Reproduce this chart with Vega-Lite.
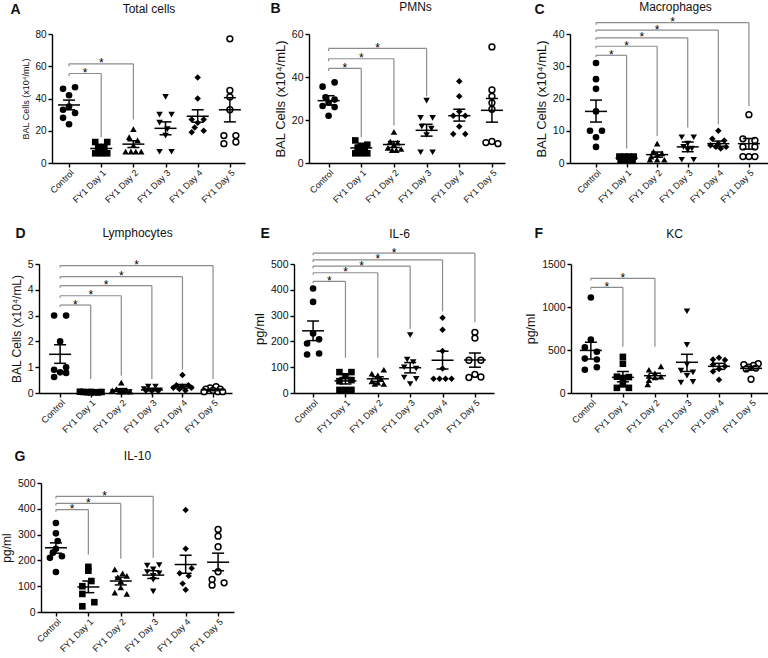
{
"$schema": "https://vega.github.io/schema/vega-lite/v6.json",
"padding": {"left": 0, "top": 0, "right": 0, "bottom": 0},
"spacing": 21,
"config": {
 "font": "Liberation Sans",
 "view": {"stroke": null},
 "axis": {"grid": false, "domainColor": "black", "domainWidth": 1.4, "tickColor": "black", "tickWidth": 1.4, "tickSize": 4, "labelColor": "#111", "titleColor": "#111", "labelFontSize": 10, "titleFontWeight": "normal", "labelPadding": 2, "titlePadding": 4, "labelFlush": false, "labelOverlap": false},
 "axisBottom": {"labelPadding": 1, "labelFontSize": 9}
},
"datasets": {
 "A_pts": [{"day":0,"v":46,"slot":-1},{"day":0,"v":47,"slot":1},{"day":0,"v":42,"slot":0},{"day":0,"v":35,"slot":0},{"day":0,"v":33,"slot":-1},{"day":0,"v":31,"slot":1},{"day":0,"v":28,"slot":-1},{"day":0,"v":24,"slot":0},
  {"day":1,"v":13,"slot":-1},{"day":1,"v":13,"slot":1},{"day":1,"v":10,"slot":-0.5},{"day":1,"v":10,"slot":0.5},{"day":1,"v":8,"slot":0},{"day":1,"v":6,"slot":-1},{"day":1,"v":6,"slot":0},{"day":1,"v":6,"slot":1},
  {"day":2,"v":21,"slot":0},{"day":2,"v":16,"slot":-0.7},{"day":2,"v":14,"slot":0.7},{"day":2,"v":11,"slot":0},{"day":2,"v":7,"slot":-1.3},{"day":2,"v":7,"slot":-0.4},{"day":2,"v":7,"slot":0.4},{"day":2,"v":7,"slot":1.3},
  {"day":3,"v":41,"slot":0},{"day":3,"v":30,"slot":-1},{"day":3,"v":30,"slot":1},{"day":3,"v":25,"slot":-1},{"day":3,"v":21,"slot":0.3},{"day":3,"v":17,"slot":0},{"day":3,"v":7,"slot":-1},{"day":3,"v":7,"slot":1},
  {"day":4,"v":53,"slot":0},{"day":4,"v":40,"slot":0},{"day":4,"v":27,"slot":-1},{"day":4,"v":27,"slot":1},{"day":4,"v":25,"slot":0},{"day":4,"v":22,"slot":-0.5},{"day":4,"v":19,"slot":-1},{"day":4,"v":20,"slot":1},
  {"day":5,"v":77,"slot":0},{"day":5,"v":45,"slot":0},{"day":5,"v":41,"slot":0},{"day":5,"v":33,"slot":0},{"day":5,"v":17,"slot":-1},{"day":5,"v":17,"slot":1},{"day":5,"v":12,"slot":-1},{"day":5,"v":13,"slot":1}],
 "A_sum": [{"day":0,"mean":36,"lo":33,"hi":39},{"day":1,"mean":9,"lo":7.7,"hi":10.5},{"day":2,"mean":11.7,"lo":9.6,"hi":13.8},{"day":3,"mean":21.5,"lo":17.5,"hi":25.5},{"day":4,"mean":29,"lo":25.3,"hi":33},{"day":5,"mean":33,"lo":25.5,"hi":40.5}],
 "A_br": [{"from":0,"to":1,"h":55.5,"end":16,"cend":54,"sig":"*"},{"from":0,"to":2,"h":61.5,"end":27,"cend":60,"sig":"*"}],
 "B_pts": [{"day":0,"v":37.5,"slot":1},{"day":0,"v":35.5,"slot":-1},{"day":0,"v":30.5,"slot":-0.5},{"day":0,"v":29.5,"slot":1},{"day":0,"v":28,"slot":0},{"day":0,"v":26.5,"slot":-1},{"day":0,"v":26,"slot":1},{"day":0,"v":22,"slot":0},
  {"day":1,"v":10.5,"slot":-1},{"day":1,"v":8.5,"slot":1},{"day":1,"v":8,"slot":0},{"day":1,"v":7,"slot":-0.6},{"day":1,"v":6,"slot":0.6},{"day":1,"v":4.5,"slot":-1},{"day":1,"v":4.5,"slot":0},{"day":1,"v":4.5,"slot":1},
  {"day":2,"v":14.5,"slot":0},{"day":2,"v":10,"slot":-0.6},{"day":2,"v":9.5,"slot":0.6},{"day":2,"v":8.5,"slot":0},{"day":2,"v":7,"slot":-1},{"day":2,"v":6,"slot":-0.3},{"day":2,"v":6,"slot":0.4},{"day":2,"v":6.5,"slot":1.2},
  {"day":3,"v":29,"slot":0},{"day":3,"v":21,"slot":-1},{"day":3,"v":21,"slot":1},{"day":3,"v":17,"slot":-0.8},{"day":3,"v":16,"slot":0.8},{"day":3,"v":13,"slot":0},{"day":3,"v":5,"slot":-1},{"day":3,"v":5,"slot":1},
  {"day":4,"v":38,"slot":0},{"day":4,"v":31,"slot":0},{"day":4,"v":24,"slot":0},{"day":4,"v":22,"slot":-1},{"day":4,"v":22,"slot":1},{"day":4,"v":17,"slot":0},{"day":4,"v":13.5,"slot":-1},{"day":4,"v":13.5,"slot":1},
  {"day":5,"v":54,"slot":0},{"day":5,"v":34,"slot":0},{"day":5,"v":31,"slot":0},{"day":5,"v":28,"slot":0},{"day":5,"v":25,"slot":0},{"day":5,"v":10,"slot":0},{"day":5,"v":9.5,"slot":-1},{"day":5,"v":9,"slot":1}],
 "B_sum": [{"day":0,"mean":29,"lo":27,"hi":31.3},{"day":1,"mean":7,"lo":5.6,"hi":8.4},{"day":2,"mean":8.6,"lo":7.2,"hi":10},{"day":3,"mean":15.2,"lo":12.5,"hi":18},{"day":4,"mean":22,"lo":19.5,"hi":25},{"day":5,"mean":24.5,"lo":19,"hi":30}],
 "B_br": [{"from":0,"to":1,"h":44,"end":12,"cend":42.8,"sig":"*"},{"from":0,"to":2,"h":48.5,"end":17.5,"cend":47.3,"sig":"*"},{"from":0,"to":3,"h":53.3,"end":31,"cend":52.1,"sig":"*"}],
 "C_pts": [{"day":0,"v":31,"slot":0},{"day":0,"v":26,"slot":0},{"day":0,"v":23,"slot":0},{"day":0,"v":16,"slot":0},{"day":0,"v":10,"slot":-1},{"day":0,"v":10,"slot":1},{"day":0,"v":8,"slot":0},{"day":0,"v":5,"slot":0},
  {"day":1,"v":2,"slot":-1.2},{"day":1,"v":2,"slot":-0.4},{"day":1,"v":2,"slot":0.4},{"day":1,"v":2,"slot":1.2},{"day":1,"v":1.5,"slot":0},{"day":1,"v":1,"slot":-1},{"day":1,"v":1,"slot":0},{"day":1,"v":1,"slot":1},
  {"day":2,"v":6,"slot":0},{"day":2,"v":3.5,"slot":-0.6},{"day":2,"v":3,"slot":0.8},{"day":2,"v":2.5,"slot":0},{"day":2,"v":2,"slot":-1},{"day":2,"v":1,"slot":-1.2},{"day":2,"v":1,"slot":0},{"day":2,"v":1,"slot":1.2},
  {"day":3,"v":8,"slot":-1},{"day":3,"v":8,"slot":1},{"day":3,"v":6,"slot":0},{"day":3,"v":5,"slot":-0.7},{"day":3,"v":4.5,"slot":0.7},{"day":3,"v":4,"slot":0},{"day":3,"v":1,"slot":-1},{"day":3,"v":1,"slot":1},
  {"day":4,"v":10,"slot":0},{"day":4,"v":7.5,"slot":-1},{"day":4,"v":7,"slot":1},{"day":4,"v":6,"slot":0},{"day":4,"v":5.5,"slot":-1.3},{"day":4,"v":5,"slot":1.3},{"day":4,"v":5,"slot":-0.4},{"day":4,"v":4.5,"slot":0.4},
  {"day":5,"v":15,"slot":0},{"day":5,"v":7.5,"slot":-1},{"day":5,"v":7,"slot":1},{"day":5,"v":5,"slot":-1},{"day":5,"v":5,"slot":1},{"day":5,"v":2,"slot":-1},{"day":5,"v":2,"slot":0},{"day":5,"v":2,"slot":1}],
 "C_sum": [{"day":0,"mean":16,"lo":12.7,"hi":19.5},{"day":1,"mean":1.5,"lo":1.2,"hi":1.8},{"day":2,"mean":2.6,"lo":1.8,"hi":3.4},{"day":3,"mean":5,"lo":3.5,"hi":6.5},{"day":4,"mean":6,"lo":5.2,"hi":6.8},{"day":5,"mean":6,"lo":4.3,"hi":7.6}],
 "C_br": [{"from":0,"to":1,"h":33.4,"end":4.5,"cend":32.8,"sig":"*"},{"from":0,"to":2,"h":36.2,"end":8.4,"cend":35.6,"sig":"*"},{"from":0,"to":3,"h":38.8,"end":11,"cend":38.2,"sig":"*"},{"from":0,"to":4,"h":41.2,"end":12,"cend":40.6,"sig":"*"},{"from":0,"to":5,"h":43.5,"end":17.7,"cend":42.9,"sig":"*"}],
 "D_pts": [{"day":0,"v":3,"slot":-1},{"day":0,"v":3,"slot":1},{"day":0,"v":2,"slot":0},{"day":0,"v":1,"slot":1},{"day":0,"v":0.9,"slot":-1},{"day":0,"v":0.8,"slot":0},{"day":0,"v":0.78,"slot":1},{"day":0,"v":0.62,"slot":-1},
  {"day":1,"v":0.05,"slot":-1.8},{"day":1,"v":0.04,"slot":-1.2},{"day":1,"v":0.03,"slot":-0.6},{"day":1,"v":0.04,"slot":0},{"day":1,"v":0.03,"slot":0.6},{"day":1,"v":0.02,"slot":1.2},{"day":1,"v":0.04,"slot":1.8},{"day":1,"v":0.03,"slot":0},
  {"day":2,"v":0.4,"slot":0},{"day":2,"v":0.15,"slot":-0.8},{"day":2,"v":0.1,"slot":0.8},{"day":2,"v":0.1,"slot":-1.5},{"day":2,"v":0.05,"slot":1.5},{"day":2,"v":0.05,"slot":-0.3},{"day":2,"v":0.05,"slot":0.3},{"day":2,"v":0.06,"slot":1},
  {"day":3,"v":0.25,"slot":-0.6},{"day":3,"v":0.25,"slot":0.6},{"day":3,"v":0.15,"slot":-1.3},{"day":3,"v":0.1,"slot":1.3},{"day":3,"v":0.1,"slot":0},{"day":3,"v":0.05,"slot":-1},{"day":3,"v":0.05,"slot":1},{"day":3,"v":0.03,"slot":0},
  {"day":4,"v":0.7,"slot":0},{"day":4,"v":0.3,"slot":-1},{"day":4,"v":0.3,"slot":1},{"day":4,"v":0.25,"slot":0},{"day":4,"v":0.2,"slot":-1.5},{"day":4,"v":0.2,"slot":1.5},{"day":4,"v":0.15,"slot":-0.5},{"day":4,"v":0.1,"slot":0.5},
  {"day":5,"v":0.25,"slot":0.5},{"day":5,"v":0.2,"slot":-0.5},{"day":5,"v":0.15,"slot":1.2},{"day":5,"v":0.15,"slot":-1.2},{"day":5,"v":0.1,"slot":0},{"day":5,"v":0.05,"slot":-1.5},{"day":5,"v":0.05,"slot":0.8},{"day":5,"v":0.05,"slot":1.6}],
 "D_sum": [{"day":0,"mean":1.5,"lo":1.15,"hi":1.87},{"day":1,"mean":0.035,"lo":0.025,"hi":0.045},{"day":2,"mean":0.12,"lo":0.07,"hi":0.17},{"day":3,"mean":0.12,"lo":0.08,"hi":0.17},{"day":4,"mean":0.26,"lo":0.19,"hi":0.33},{"day":5,"mean":0.12,"lo":0.09,"hi":0.15}],
 "D_br": [{"from":0,"to":1,"h":3.41,"end":0.54,"cend":3.33,"sig":"*"},{"from":0,"to":2,"h":3.77,"end":0.67,"cend":3.69,"sig":"*"},{"from":0,"to":3,"h":4.16,"end":0.54,"cend":4.08,"sig":"*"},{"from":0,"to":4,"h":4.51,"end":0.9,"cend":4.43,"sig":"*"},{"from":0,"to":5,"h":4.94,"end":0.54,"cend":4.86,"sig":"*"}],
 "E_pts": [{"day":0,"v":405,"slot":0},{"day":0,"v":353,"slot":0},{"day":0,"v":231,"slot":0},{"day":0,"v":208,"slot":1},{"day":0,"v":192,"slot":-1},{"day":0,"v":153,"slot":1},{"day":0,"v":149,"slot":-1},
  {"day":1,"v":81,"slot":-1},{"day":1,"v":81,"slot":1},{"day":1,"v":65,"slot":0},{"day":1,"v":46,"slot":-1},{"day":1,"v":50,"slot":1},{"day":1,"v":12,"slot":-1},{"day":1,"v":12,"slot":0},{"day":1,"v":12,"slot":1},
  {"day":2,"v":90,"slot":1},{"day":2,"v":75,"slot":-1},{"day":2,"v":68,"slot":0},{"day":2,"v":55,"slot":0.5},{"day":2,"v":45,"slot":-1},{"day":2,"v":40,"slot":0},{"day":2,"v":35,"slot":-0.5},{"day":2,"v":35,"slot":1},
  {"day":3,"v":225,"slot":0},{"day":3,"v":130,"slot":-0.5},{"day":3,"v":120,"slot":0.5},{"day":3,"v":100,"slot":-1},{"day":3,"v":95,"slot":1},{"day":3,"v":60,"slot":-1},{"day":3,"v":55,"slot":1},{"day":3,"v":35,"slot":0},
  {"day":4,"v":292,"slot":0},{"day":4,"v":245,"slot":0},{"day":4,"v":163,"slot":0},{"day":4,"v":95,"slot":0},{"day":4,"v":55,"slot":-1.5},{"day":4,"v":55,"slot":-0.5},{"day":4,"v":55,"slot":0.5},{"day":4,"v":55,"slot":1.5},
  {"day":5,"v":235,"slot":0},{"day":5,"v":213,"slot":0},{"day":5,"v":127,"slot":-1},{"day":5,"v":127,"slot":1},{"day":5,"v":60,"slot":-1},{"day":5,"v":72,"slot":0},{"day":5,"v":62,"slot":1}],
 "E_sum": [{"day":0,"mean":241,"lo":203,"hi":279},{"day":1,"mean":47,"lo":35,"hi":60},{"day":2,"mean":55,"lo":45,"hi":63},{"day":3,"mean":98,"lo":78,"hi":118},{"day":4,"mean":127,"lo":93,"hi":162},{"day":5,"mean":128,"lo":100,"hi":155}],
 "E_br": [{"from":0,"to":1,"h":433,"end":137,"cend":425,"sig":"*"},{"from":0,"to":2,"h":466,"end":137,"cend":458,"sig":"*"},{"from":0,"to":3,"h":492,"end":248,"cend":484,"sig":"*"},{"from":0,"to":4,"h":516,"end":316,"cend":508,"sig":"*"},{"from":0,"to":5,"h":542,"end":274,"cend":534,"sig":"*"}],
 "F_pts": [{"day":0,"v":1110,"slot":0},{"day":0,"v":620,"slot":0},{"day":0,"v":530,"slot":-1},{"day":0,"v":480,"slot":1},{"day":0,"v":400,"slot":-1},{"day":0,"v":390,"slot":1},{"day":0,"v":300,"slot":1},{"day":0,"v":270,"slot":-1},
  {"day":1,"v":420,"slot":0},{"day":1,"v":340,"slot":0},{"day":1,"v":190,"slot":-1},{"day":1,"v":185,"slot":1},{"day":1,"v":175,"slot":0},{"day":1,"v":100,"slot":0},{"day":1,"v":60,"slot":-1},{"day":1,"v":60,"slot":1},
  {"day":2,"v":310,"slot":1},{"day":2,"v":270,"slot":-1},{"day":2,"v":230,"slot":0},{"day":2,"v":200,"slot":-1},{"day":2,"v":190,"slot":1},{"day":2,"v":180,"slot":0},{"day":2,"v":150,"slot":-1},{"day":2,"v":100,"slot":-1.2},
  {"day":3,"v":950,"slot":0},{"day":3,"v":560,"slot":0},{"day":3,"v":330,"slot":0},{"day":3,"v":260,"slot":-1},{"day":3,"v":240,"slot":1},{"day":3,"v":200,"slot":0},{"day":3,"v":120,"slot":-1},{"day":3,"v":130,"slot":1},
  {"day":4,"v":410,"slot":0},{"day":4,"v":390,"slot":-1},{"day":4,"v":385,"slot":1},{"day":4,"v":330,"slot":-1},{"day":4,"v":310,"slot":1},{"day":4,"v":280,"slot":0},{"day":4,"v":250,"slot":-1},{"day":4,"v":155,"slot":0},
  {"day":5,"v":340,"slot":1.2},{"day":5,"v":330,"slot":-1.2},{"day":5,"v":320,"slot":0.4},{"day":5,"v":300,"slot":-0.4},{"day":5,"v":290,"slot":0.8},{"day":5,"v":280,"slot":-0.8},{"day":5,"v":160,"slot":0}],
 "F_sum": [{"day":0,"mean":495,"lo":395,"hi":590},{"day":1,"mean":182,"lo":130,"hi":250},{"day":2,"mean":201,"lo":170,"hi":230},{"day":3,"mean":357,"lo":250,"hi":450},{"day":4,"mean":310,"lo":275,"hi":345},{"day":5,"mean":287,"lo":265,"hi":310}],
 "F_br": [{"from":0,"to":1,"h":1229,"end":539,"cend":1204,"sig":"*"},{"from":0,"to":2,"h":1333,"end":539,"cend":1308,"sig":"*"}],
 "G_pts": [{"day":0,"v":345,"slot":0},{"day":0,"v":305,"slot":0},{"day":0,"v":275,"slot":0.3},{"day":0,"v":245,"slot":0},{"day":0,"v":230,"slot":-0.5},{"day":0,"v":216,"slot":1},{"day":0,"v":210,"slot":-1},{"day":0,"v":155,"slot":0},
  {"day":1,"v":175,"slot":0},{"day":1,"v":160,"slot":0},{"day":1,"v":120,"slot":0.5},{"day":1,"v":100,"slot":-1},{"day":1,"v":70,"slot":-1},{"day":1,"v":38,"slot":1},{"day":1,"v":22,"slot":-1},
  {"day":2,"v":165,"slot":-1},{"day":2,"v":150,"slot":0.3},{"day":2,"v":140,"slot":1},{"day":2,"v":135,"slot":-0.5},{"day":2,"v":120,"slot":0},{"day":2,"v":95,"slot":0},{"day":2,"v":75,"slot":-1},{"day":2,"v":70,"slot":1},
  {"day":3,"v":180,"slot":-1},{"day":3,"v":182,"slot":1},{"day":3,"v":165,"slot":0},{"day":3,"v":155,"slot":-1},{"day":3,"v":150,"slot":1},{"day":3,"v":140,"slot":0},{"day":3,"v":125,"slot":0},{"day":3,"v":80,"slot":0},
  {"day":4,"v":395,"slot":0},{"day":4,"v":245,"slot":0},{"day":4,"v":170,"slot":1},{"day":4,"v":150,"slot":-1},{"day":4,"v":140,"slot":0.5},{"day":4,"v":110,"slot":-0.5},{"day":4,"v":86,"slot":0},
  {"day":5,"v":320,"slot":0},{"day":5,"v":294,"slot":0},{"day":5,"v":253,"slot":0},{"day":5,"v":156,"slot":0},{"day":5,"v":126,"slot":-1},{"day":5,"v":104,"slot":-1},{"day":5,"v":113,"slot":1}],
 "G_sum": [{"day":0,"mean":249,"lo":228,"hi":268},{"day":1,"mean":97,"lo":75,"hi":120},{"day":2,"mean":120,"lo":105,"hi":135},{"day":3,"mean":143,"lo":130,"hi":160},{"day":4,"mean":184,"lo":150,"hi":220},{"day":5,"mean":193,"lo":160,"hi":228}],
 "G_br": [{"from":0,"to":1,"h":397,"end":223,"cend":389,"sig":"*"},{"from":0,"to":2,"h":421,"end":206,"cend":413,"sig":"*"},{"from":0,"to":3,"h":448,"end":210,"cend":440,"sig":"*"}]
},
"vconcat": [
 {"bounds": "flush", "spacing": 0, "hconcat": [
  {"width": 50, "height": 1, "data": {"values": []}, "mark": "point"},
  {"width": 193, "height": 129, "resolve": {"scale": {"xOffset": "independent"}, "axis": {"x": "independent", "y": "independent"}},
   "layer": [
    {"data": {"name": "A_pts"}, "transform": [{"filter": "datum.day < 5"}], "mark": {"type": "point", "filled": true, "color": "black", "opacity": 1, "strokeWidth": 0},
     "encoding": {"x": {"field": "day", "type": "ordinal", "scale": {"type": "point", "domain": [0,1,2,3,4,5], "padding": 0.5, "align": 0.53}, "axis": {"labelExpr": "datum.value == 0 ? 'Control' : 'FY1 Day ' + datum.value", "labelAngle": -45, "title": null}},
      "xOffset": {"field": "slot", "type": "quantitative", "scale": {"domain": [-1, 1], "range": [-6, 6]}},
      "y": {"field": "v", "type": "quantitative", "scale": {"domain": [0, 80], "nice": false, "zero": false}, "axis": {"values": [0,20,40,60,80], "title": "BAL Cells (x10⁴/mL)", "titleFontSize": 9}},
      "shape": {"field": "day", "type": "nominal", "scale": {"domain": [0,1,2,3,4], "range": ["circle","square","triangle-up","triangle-down","diamond"]}, "legend": null},
      "size": {"field": "day", "type": "ordinal", "scale": {"domain": [0,1,2,3,4], "range": [44,42,44,44,30]}, "legend": null}}},
    {"data": {"name": "A_pts"}, "transform": [{"filter": "datum.day == 5"}], "mark": {"type": "point", "shape": "circle", "filled": true, "fill": "white", "stroke": "black", "strokeWidth": 1.5, "size": 34, "opacity": 1},
     "encoding": {"x": {"field": "day", "type": "ordinal", "axis": null}, "xOffset": {"field": "slot", "type": "quantitative", "scale": {"domain": [-1, 1], "range": [-6, 6]}}, "y": {"field": "v", "type": "quantitative", "axis": null}}},
    {"data": {"name": "A_sum"}, "mark": {"type": "rule", "color": "black", "strokeWidth": 1.5},
     "encoding": {"x": {"field": "day", "type": "ordinal", "axis": null}, "y": {"field": "lo", "type": "quantitative", "axis": null}, "y2": {"field": "hi"}}},
    {"data": {"name": "A_sum"}, "mark": {"type": "tick", "orient": "horizontal", "size": 22, "thickness": 1.5, "color": "black", "opacity": 1},
     "encoding": {"x": {"field": "day", "type": "ordinal", "axis": null}, "y": {"field": "mean", "type": "quantitative", "axis": null}}},
    {"data": {"name": "A_sum"}, "mark": {"type": "tick", "orient": "horizontal", "size": 12, "thickness": 1.5, "color": "black", "opacity": 1},
     "encoding": {"x": {"field": "day", "type": "ordinal", "axis": null}, "y": {"field": "lo", "type": "quantitative", "axis": null}}},
    {"data": {"name": "A_sum"}, "mark": {"type": "tick", "orient": "horizontal", "size": 12, "thickness": 1.5, "color": "black", "opacity": 1},
     "encoding": {"x": {"field": "day", "type": "ordinal", "axis": null}, "y": {"field": "hi", "type": "quantitative", "axis": null}}},
    {"data": {"name": "A_br"}, "mark": {"type": "rule", "color": "#8c8c8c", "strokeWidth": 1.2},
     "encoding": {"x": {"field": "from", "type": "ordinal", "axis": {"orient": "top", "domain": false, "ticks": false, "labels": false, "title": "Total cells", "titleFontSize": 12, "titleX": 96.5, "titleY": -22, "titleAlign": "center", "titleBaseline": "alphabetic", "titleAngle": 0}},
      "x2": {"field": "to"},
      "y": {"field": "h", "type": "quantitative", "axis": {"orient": "left", "domain": false, "ticks": false, "labels": false, "title": "A", "titleFontSize": 14, "titleFontWeight": "bold", "titleX": -42, "titleY": -21, "titleAlign": "left", "titleBaseline": "alphabetic", "titleAngle": 0}}}},
    {"data": {"name": "A_br"}, "mark": {"type": "rule", "color": "#8c8c8c", "strokeWidth": 1.2},
     "encoding": {"x": {"field": "to", "type": "ordinal", "axis": null}, "y": {"field": "h", "type": "quantitative", "axis": null}, "y2": {"field": "end"}}},
    {"data": {"name": "A_br"}, "mark": {"type": "rule", "color": "#8c8c8c", "strokeWidth": 1.2},
     "encoding": {"x": {"field": "from", "type": "ordinal", "axis": null}, "y": {"field": "h", "type": "quantitative", "axis": null}, "y2": {"field": "cend"}}},
    {"data": {"name": "A_br"}, "mark": {"type": "text", "fontSize": 12, "dy": 3.5, "baseline": "alphabetic", "align": "center", "color": "black"},
     "encoding": {"x": {"field": "from", "type": "ordinal", "axis": null}, "xOffset": {"field": "to", "type": "quantitative", "scale": {"domain": [0, 5], "range": [0, 80.4]}}, "y": {"field": "h", "type": "quantitative", "axis": null}, "text": {"field": "sig"}}}
   ]},
  {"width": 64, "height": 1, "data": {"values": []}, "mark": "point"},
  {"width": 196, "height": 129, "resolve": {"scale": {"xOffset": "independent"}, "axis": {"x": "independent", "y": "independent"}},
   "layer": [
    {"data": {"name": "B_pts"}, "transform": [{"filter": "datum.day < 5"}], "mark": {"type": "point", "filled": true, "color": "black", "opacity": 1, "strokeWidth": 0},
     "encoding": {"x": {"field": "day", "type": "ordinal", "scale": {"type": "point", "domain": [0,1,2,3,4,5], "padding": 0.5, "align": 0.6}, "axis": {"labelExpr": "datum.value == 0 ? 'Control' : 'FY1 Day ' + datum.value", "labelAngle": -45, "title": null}},
      "xOffset": {"field": "slot", "type": "quantitative", "scale": {"domain": [-1, 1], "range": [-6, 6]}},
      "y": {"field": "v", "type": "quantitative", "scale": {"domain": [0, 60], "nice": false, "zero": false}, "axis": {"values": [0,20,40,60], "title": "BAL Cells (x10⁴/mL)", "titleFontSize": 13, "labelFontSize": 10.5}},
      "shape": {"field": "day", "type": "nominal", "scale": {"domain": [0,1,2,3,4], "range": ["circle","square","triangle-up","triangle-down","diamond"]}, "legend": null},
      "size": {"field": "day", "type": "ordinal", "scale": {"domain": [0,1,2,3,4], "range": [44,42,44,44,30]}, "legend": null}}},
    {"data": {"name": "B_pts"}, "transform": [{"filter": "datum.day == 5"}], "mark": {"type": "point", "shape": "circle", "filled": true, "fill": "white", "stroke": "black", "strokeWidth": 1.5, "size": 34, "opacity": 1},
     "encoding": {"x": {"field": "day", "type": "ordinal", "axis": null}, "xOffset": {"field": "slot", "type": "quantitative", "scale": {"domain": [-1, 1], "range": [-6, 6]}}, "y": {"field": "v", "type": "quantitative", "axis": null}}},
    {"data": {"name": "B_sum"}, "mark": {"type": "rule", "color": "black", "strokeWidth": 1.5},
     "encoding": {"x": {"field": "day", "type": "ordinal", "axis": null}, "y": {"field": "lo", "type": "quantitative", "axis": null}, "y2": {"field": "hi"}}},
    {"data": {"name": "B_sum"}, "mark": {"type": "tick", "orient": "horizontal", "size": 22, "thickness": 1.5, "color": "black", "opacity": 1},
     "encoding": {"x": {"field": "day", "type": "ordinal", "axis": null}, "y": {"field": "mean", "type": "quantitative", "axis": null}}},
    {"data": {"name": "B_sum"}, "mark": {"type": "tick", "orient": "horizontal", "size": 12, "thickness": 1.5, "color": "black", "opacity": 1},
     "encoding": {"x": {"field": "day", "type": "ordinal", "axis": null}, "y": {"field": "lo", "type": "quantitative", "axis": null}}},
    {"data": {"name": "B_sum"}, "mark": {"type": "tick", "orient": "horizontal", "size": 12, "thickness": 1.5, "color": "black", "opacity": 1},
     "encoding": {"x": {"field": "day", "type": "ordinal", "axis": null}, "y": {"field": "hi", "type": "quantitative", "axis": null}}},
    {"data": {"name": "B_br"}, "mark": {"type": "rule", "color": "#8c8c8c", "strokeWidth": 1.2},
     "encoding": {"x": {"field": "from", "type": "ordinal", "axis": {"orient": "top", "domain": false, "ticks": false, "labels": false, "title": "PMNs", "titleFontSize": 12, "titleX": 106, "titleY": -24, "titleAlign": "center", "titleBaseline": "alphabetic", "titleAngle": 0}},
      "x2": {"field": "to"},
      "y": {"field": "h", "type": "quantitative", "axis": {"orient": "left", "domain": false, "ticks": false, "labels": false, "title": "B", "titleFontSize": 14, "titleFontWeight": "bold", "titleX": -39, "titleY": -22, "titleAlign": "left", "titleBaseline": "alphabetic", "titleAngle": 0}}}},
    {"data": {"name": "B_br"}, "mark": {"type": "rule", "color": "#8c8c8c", "strokeWidth": 1.2},
     "encoding": {"x": {"field": "to", "type": "ordinal", "axis": null}, "y": {"field": "h", "type": "quantitative", "axis": null}, "y2": {"field": "end"}}},
    {"data": {"name": "B_br"}, "mark": {"type": "rule", "color": "#8c8c8c", "strokeWidth": 1.2},
     "encoding": {"x": {"field": "from", "type": "ordinal", "axis": null}, "y": {"field": "h", "type": "quantitative", "axis": null}, "y2": {"field": "cend"}}},
    {"data": {"name": "B_br"}, "mark": {"type": "text", "fontSize": 12, "dy": 3.5, "baseline": "alphabetic", "align": "center", "color": "black"},
     "encoding": {"x": {"field": "from", "type": "ordinal", "axis": null}, "xOffset": {"field": "to", "type": "quantitative", "scale": {"domain": [0, 5], "range": [0, 81.7]}}, "y": {"field": "h", "type": "quantitative", "axis": null}, "text": {"field": "sig"}}}
   ]},
  {"width": 65, "height": 1, "data": {"values": []}, "mark": "point"},
  {"width": 200, "height": 129, "resolve": {"scale": {"xOffset": "independent"}, "axis": {"x": "independent", "y": "independent"}},
   "layer": [
    {"data": {"name": "C_pts"}, "transform": [{"filter": "datum.day < 5"}], "mark": {"type": "point", "filled": true, "color": "black", "opacity": 1, "strokeWidth": 0},
     "encoding": {"x": {"field": "day", "type": "ordinal", "scale": {"type": "point", "domain": [0,1,2,3,4,5], "padding": 0.77, "align": 0.552}, "axis": {"labelExpr": "datum.value == 0 ? 'Control' : 'FY1 Day ' + datum.value", "labelAngle": -45, "title": null}},
      "xOffset": {"field": "slot", "type": "quantitative", "scale": {"domain": [-1, 1], "range": [-6, 6]}},
      "y": {"field": "v", "type": "quantitative", "scale": {"domain": [0, 40], "nice": false, "zero": false}, "axis": {"values": [0,10,20,30,40], "title": "BAL Cells (x10⁴/mL)", "titleFontSize": 13, "labelFontSize": 10.5}},
      "shape": {"field": "day", "type": "nominal", "scale": {"domain": [0,1,2,3,4], "range": ["circle","square","triangle-up","triangle-down","diamond"]}, "legend": null},
      "size": {"field": "day", "type": "ordinal", "scale": {"domain": [0,1,2,3,4], "range": [44,42,44,44,30]}, "legend": null}}},
    {"data": {"name": "C_pts"}, "transform": [{"filter": "datum.day == 5"}], "mark": {"type": "point", "shape": "circle", "filled": true, "fill": "white", "stroke": "black", "strokeWidth": 1.5, "size": 34, "opacity": 1},
     "encoding": {"x": {"field": "day", "type": "ordinal", "axis": null}, "xOffset": {"field": "slot", "type": "quantitative", "scale": {"domain": [-1, 1], "range": [-6, 6]}}, "y": {"field": "v", "type": "quantitative", "axis": null}}},
    {"data": {"name": "C_sum"}, "mark": {"type": "rule", "color": "black", "strokeWidth": 1.5},
     "encoding": {"x": {"field": "day", "type": "ordinal", "axis": null}, "y": {"field": "lo", "type": "quantitative", "axis": null}, "y2": {"field": "hi"}}},
    {"data": {"name": "C_sum"}, "mark": {"type": "tick", "orient": "horizontal", "size": 22, "thickness": 1.5, "color": "black", "opacity": 1},
     "encoding": {"x": {"field": "day", "type": "ordinal", "axis": null}, "y": {"field": "mean", "type": "quantitative", "axis": null}}},
    {"data": {"name": "C_sum"}, "mark": {"type": "tick", "orient": "horizontal", "size": 12, "thickness": 1.5, "color": "black", "opacity": 1},
     "encoding": {"x": {"field": "day", "type": "ordinal", "axis": null}, "y": {"field": "lo", "type": "quantitative", "axis": null}}},
    {"data": {"name": "C_sum"}, "mark": {"type": "tick", "orient": "horizontal", "size": 12, "thickness": 1.5, "color": "black", "opacity": 1},
     "encoding": {"x": {"field": "day", "type": "ordinal", "axis": null}, "y": {"field": "hi", "type": "quantitative", "axis": null}}},
    {"data": {"name": "C_br"}, "mark": {"type": "rule", "color": "#8c8c8c", "strokeWidth": 1.2},
     "encoding": {"x": {"field": "from", "type": "ordinal", "axis": {"orient": "top", "domain": false, "ticks": false, "labels": false, "title": "Macrophages", "titleFontSize": 12, "titleX": 105, "titleY": -24, "titleAlign": "center", "titleBaseline": "alphabetic", "titleAngle": 0}},
      "x2": {"field": "to"},
      "y": {"field": "h", "type": "quantitative", "axis": {"orient": "left", "domain": false, "ticks": false, "labels": false, "title": "C", "titleFontSize": 14, "titleFontWeight": "bold", "titleX": -36, "titleY": -21, "titleAlign": "left", "titleBaseline": "alphabetic", "titleAngle": 0}}}},
    {"data": {"name": "C_br"}, "mark": {"type": "rule", "color": "#8c8c8c", "strokeWidth": 1.2},
     "encoding": {"x": {"field": "to", "type": "ordinal", "axis": null}, "y": {"field": "h", "type": "quantitative", "axis": null}, "y2": {"field": "end"}}},
    {"data": {"name": "C_br"}, "mark": {"type": "rule", "color": "#8c8c8c", "strokeWidth": 1.2},
     "encoding": {"x": {"field": "from", "type": "ordinal", "axis": null}, "y": {"field": "h", "type": "quantitative", "axis": null}, "y2": {"field": "cend"}}},
    {"data": {"name": "C_br"}, "mark": {"type": "text", "fontSize": 12, "dy": 3.5, "baseline": "alphabetic", "align": "center", "color": "black"},
     "encoding": {"x": {"field": "from", "type": "ordinal", "axis": null}, "xOffset": {"field": "to", "type": "quantitative", "scale": {"domain": [0, 5], "range": [0, 76.5]}}, "y": {"field": "h", "type": "quantitative", "axis": null}, "text": {"field": "sig"}}}
   ]}
 ]},
 {"spacing": 14, "vconcat": [
 {"bounds": "flush", "spacing": 0, "hconcat": [
  {"width": 37, "height": 1, "data": {"values": []}, "mark": "point"},
  {"width": 193, "height": 129, "resolve": {"scale": {"xOffset": "independent"}, "axis": {"x": "independent", "y": "independent"}},
   "layer": [
    {"data": {"name": "D_pts"}, "transform": [{"filter": "datum.day < 5"}], "mark": {"type": "point", "filled": true, "color": "black", "opacity": 1, "strokeWidth": 0},
     "encoding": {"x": {"field": "day", "type": "ordinal", "scale": {"type": "point", "domain": [0,1,2,3,4,5], "padding": 0.655, "align": 0.527}, "axis": {"labelExpr": "datum.value == 0 ? 'Control' : 'FY1 Day ' + datum.value", "labelAngle": -45, "title": null}},
      "xOffset": {"field": "slot", "type": "quantitative", "scale": {"domain": [-1, 1], "range": [-6, 6]}},
      "y": {"field": "v", "type": "quantitative", "scale": {"domain": [0, 5], "nice": false, "zero": false}, "axis": {"values": [0,1,2,3,4,5], "title": "BAL Cells (x10⁴/mL)", "titleFontSize": 12, "labelFontSize": 10.5}},
      "shape": {"field": "day", "type": "nominal", "scale": {"domain": [0,1,2,3,4], "range": ["circle","square","triangle-up","triangle-down","diamond"]}, "legend": null},
      "size": {"field": "day", "type": "ordinal", "scale": {"domain": [0,1,2,3,4], "range": [44,42,44,44,30]}, "legend": null}}},
    {"data": {"name": "D_pts"}, "transform": [{"filter": "datum.day == 5"}], "mark": {"type": "point", "shape": "circle", "filled": true, "fill": "white", "stroke": "black", "strokeWidth": 1.5, "size": 34, "opacity": 1},
     "encoding": {"x": {"field": "day", "type": "ordinal", "axis": null}, "xOffset": {"field": "slot", "type": "quantitative", "scale": {"domain": [-1, 1], "range": [-6, 6]}}, "y": {"field": "v", "type": "quantitative", "axis": null}}},
    {"data": {"name": "D_sum"}, "mark": {"type": "rule", "color": "black", "strokeWidth": 1.5},
     "encoding": {"x": {"field": "day", "type": "ordinal", "axis": null}, "y": {"field": "lo", "type": "quantitative", "axis": null}, "y2": {"field": "hi"}}},
    {"data": {"name": "D_sum"}, "mark": {"type": "tick", "orient": "horizontal", "size": 22, "thickness": 1.5, "color": "black", "opacity": 1},
     "encoding": {"x": {"field": "day", "type": "ordinal", "axis": null}, "y": {"field": "mean", "type": "quantitative", "axis": null}}},
    {"data": {"name": "D_sum"}, "mark": {"type": "tick", "orient": "horizontal", "size": 12, "thickness": 1.5, "color": "black", "opacity": 1},
     "encoding": {"x": {"field": "day", "type": "ordinal", "axis": null}, "y": {"field": "lo", "type": "quantitative", "axis": null}}},
    {"data": {"name": "D_sum"}, "mark": {"type": "tick", "orient": "horizontal", "size": 12, "thickness": 1.5, "color": "black", "opacity": 1},
     "encoding": {"x": {"field": "day", "type": "ordinal", "axis": null}, "y": {"field": "hi", "type": "quantitative", "axis": null}}},
    {"data": {"name": "D_br"}, "mark": {"type": "rule", "color": "#8c8c8c", "strokeWidth": 1.2},
     "encoding": {"x": {"field": "from", "type": "ordinal", "axis": {"orient": "top", "domain": false, "ticks": false, "labels": false, "title": "Lymphocytes", "titleFontSize": 12, "titleX": 98, "titleY": -28, "titleAlign": "center", "titleBaseline": "alphabetic", "titleAngle": 0}},
      "x2": {"field": "to"},
      "y": {"field": "h", "type": "quantitative", "axis": {"orient": "left", "domain": false, "ticks": false, "labels": false, "title": "D", "titleFontSize": 14, "titleFontWeight": "bold", "titleX": -24, "titleY": -27, "titleAlign": "left", "titleBaseline": "alphabetic", "titleAngle": 0}}}},
    {"data": {"name": "D_br"}, "mark": {"type": "rule", "color": "#8c8c8c", "strokeWidth": 1.2},
     "encoding": {"x": {"field": "to", "type": "ordinal", "axis": null}, "y": {"field": "h", "type": "quantitative", "axis": null}, "y2": {"field": "end"}}},
    {"data": {"name": "D_br"}, "mark": {"type": "rule", "color": "#8c8c8c", "strokeWidth": 1.2},
     "encoding": {"x": {"field": "from", "type": "ordinal", "axis": null}, "y": {"field": "h", "type": "quantitative", "axis": null}, "y2": {"field": "cend"}}},
    {"data": {"name": "D_br"}, "mark": {"type": "text", "fontSize": 12, "dy": 3.5, "baseline": "alphabetic", "align": "center", "color": "black"},
     "encoding": {"x": {"field": "from", "type": "ordinal", "axis": null}, "xOffset": {"field": "to", "type": "quantitative", "scale": {"domain": [0, 5], "range": [0, 76.5]}}, "y": {"field": "h", "type": "quantitative", "axis": null}, "text": {"field": "sig"}}}
   ]},
  {"width": 62, "height": 1, "data": {"values": []}, "mark": "point"},
  {"width": 200, "height": 129, "resolve": {"scale": {"xOffset": "independent"}, "axis": {"x": "independent", "y": "independent"}},
   "layer": [
    {"data": {"name": "E_pts"}, "transform": [{"filter": "datum.day < 5"}], "mark": {"type": "point", "filled": true, "color": "black", "opacity": 1, "strokeWidth": 0},
     "encoding": {"x": {"field": "day", "type": "ordinal", "scale": {"type": "point", "domain": [0,1,2,3,4,5], "padding": 0.59, "align": 0.5}, "axis": {"labelExpr": "datum.value == 0 ? 'Control' : 'FY1 Day ' + datum.value", "labelAngle": -45, "title": null}},
      "xOffset": {"field": "slot", "type": "quantitative", "scale": {"domain": [-1, 1], "range": [-6, 6]}},
      "y": {"field": "v", "type": "quantitative", "scale": {"domain": [0, 500], "nice": false, "zero": false}, "axis": {"values": [0,100,200,300,400,500], "title": "pg/ml", "titleFontSize": 13, "labelFontSize": 10.5}},
      "shape": {"field": "day", "type": "nominal", "scale": {"domain": [0,1,2,3,4], "range": ["circle","square","triangle-up","triangle-down","diamond"]}, "legend": null},
      "size": {"field": "day", "type": "ordinal", "scale": {"domain": [0,1,2,3,4], "range": [44,42,44,44,30]}, "legend": null}}},
    {"data": {"name": "E_pts"}, "transform": [{"filter": "datum.day == 5"}], "mark": {"type": "point", "shape": "circle", "filled": true, "fill": "white", "stroke": "black", "strokeWidth": 1.5, "size": 34, "opacity": 1},
     "encoding": {"x": {"field": "day", "type": "ordinal", "axis": null}, "xOffset": {"field": "slot", "type": "quantitative", "scale": {"domain": [-1, 1], "range": [-6, 6]}}, "y": {"field": "v", "type": "quantitative", "axis": null}}},
    {"data": {"name": "E_sum"}, "mark": {"type": "rule", "color": "black", "strokeWidth": 1.5},
     "encoding": {"x": {"field": "day", "type": "ordinal", "axis": null}, "y": {"field": "lo", "type": "quantitative", "axis": null}, "y2": {"field": "hi"}}},
    {"data": {"name": "E_sum"}, "mark": {"type": "tick", "orient": "horizontal", "size": 22, "thickness": 1.5, "color": "black", "opacity": 1},
     "encoding": {"x": {"field": "day", "type": "ordinal", "axis": null}, "y": {"field": "mean", "type": "quantitative", "axis": null}}},
    {"data": {"name": "E_sum"}, "mark": {"type": "tick", "orient": "horizontal", "size": 12, "thickness": 1.5, "color": "black", "opacity": 1},
     "encoding": {"x": {"field": "day", "type": "ordinal", "axis": null}, "y": {"field": "lo", "type": "quantitative", "axis": null}}},
    {"data": {"name": "E_sum"}, "mark": {"type": "tick", "orient": "horizontal", "size": 12, "thickness": 1.5, "color": "black", "opacity": 1},
     "encoding": {"x": {"field": "day", "type": "ordinal", "axis": null}, "y": {"field": "hi", "type": "quantitative", "axis": null}}},
    {"data": {"name": "E_br"}, "mark": {"type": "rule", "color": "#8c8c8c", "strokeWidth": 1.2},
     "encoding": {"x": {"field": "from", "type": "ordinal", "axis": {"orient": "top", "domain": false, "ticks": false, "labels": false, "title": "IL-6", "titleFontSize": 12, "titleX": 105, "titleY": -27, "titleAlign": "center", "titleBaseline": "alphabetic", "titleAngle": 0}},
      "x2": {"field": "to"},
      "y": {"field": "h", "type": "quantitative", "axis": {"orient": "left", "domain": false, "ticks": false, "labels": false, "title": "E", "titleFontSize": 14, "titleFontWeight": "bold", "titleX": -34, "titleY": -27, "titleAlign": "left", "titleBaseline": "alphabetic", "titleAngle": 0}}}},
    {"data": {"name": "E_br"}, "mark": {"type": "rule", "color": "#8c8c8c", "strokeWidth": 1.2},
     "encoding": {"x": {"field": "to", "type": "ordinal", "axis": null}, "y": {"field": "h", "type": "quantitative", "axis": null}, "y2": {"field": "end"}}},
    {"data": {"name": "E_br"}, "mark": {"type": "rule", "color": "#8c8c8c", "strokeWidth": 1.2},
     "encoding": {"x": {"field": "from", "type": "ordinal", "axis": null}, "y": {"field": "h", "type": "quantitative", "axis": null}, "y2": {"field": "cend"}}},
    {"data": {"name": "E_br"}, "mark": {"type": "text", "fontSize": 12, "dy": 3.5, "baseline": "alphabetic", "align": "center", "color": "black"},
     "encoding": {"x": {"field": "from", "type": "ordinal", "axis": null}, "xOffset": {"field": "to", "type": "quantitative", "scale": {"domain": [0, 5], "range": [0, 80.9]}}, "y": {"field": "h", "type": "quantitative", "axis": null}, "text": {"field": "sig"}}}
   ]},
  {"width": 77, "height": 1, "data": {"values": []}, "mark": "point"},
  {"width": 198, "height": 129, "resolve": {"scale": {"xOffset": "independent"}, "axis": {"x": "independent", "y": "independent"}},
   "layer": [
    {"data": {"name": "F_pts"}, "transform": [{"filter": "datum.day < 5"}], "mark": {"type": "point", "filled": true, "color": "black", "opacity": 1, "strokeWidth": 0},
     "encoding": {"x": {"field": "day", "type": "ordinal", "scale": {"type": "point", "domain": [0,1,2,3,4,5], "padding": 0.59, "align": 0.525}, "axis": {"labelExpr": "datum.value == 0 ? 'Control' : 'FY1 Day ' + datum.value", "labelAngle": -45, "title": null}},
      "xOffset": {"field": "slot", "type": "quantitative", "scale": {"domain": [-1, 1], "range": [-6, 6]}},
      "y": {"field": "v", "type": "quantitative", "scale": {"domain": [0, 1500], "nice": false, "zero": false}, "axis": {"values": [0,500,1000,1500], "format": "d", "title": "pg/ml", "titleFontSize": 12.5, "labelFontSize": 10.5}},
      "shape": {"field": "day", "type": "nominal", "scale": {"domain": [0,1,2,3,4], "range": ["circle","square","triangle-up","triangle-down","diamond"]}, "legend": null},
      "size": {"field": "day", "type": "ordinal", "scale": {"domain": [0,1,2,3,4], "range": [44,42,44,44,30]}, "legend": null}}},
    {"data": {"name": "F_pts"}, "transform": [{"filter": "datum.day == 5"}], "mark": {"type": "point", "shape": "circle", "filled": true, "fill": "white", "stroke": "black", "strokeWidth": 1.5, "size": 34, "opacity": 1},
     "encoding": {"x": {"field": "day", "type": "ordinal", "axis": null}, "xOffset": {"field": "slot", "type": "quantitative", "scale": {"domain": [-1, 1], "range": [-6, 6]}}, "y": {"field": "v", "type": "quantitative", "axis": null}}},
    {"data": {"name": "F_sum"}, "mark": {"type": "rule", "color": "black", "strokeWidth": 1.5},
     "encoding": {"x": {"field": "day", "type": "ordinal", "axis": null}, "y": {"field": "lo", "type": "quantitative", "axis": null}, "y2": {"field": "hi"}}},
    {"data": {"name": "F_sum"}, "mark": {"type": "tick", "orient": "horizontal", "size": 22, "thickness": 1.5, "color": "black", "opacity": 1},
     "encoding": {"x": {"field": "day", "type": "ordinal", "axis": null}, "y": {"field": "mean", "type": "quantitative", "axis": null}}},
    {"data": {"name": "F_sum"}, "mark": {"type": "tick", "orient": "horizontal", "size": 12, "thickness": 1.5, "color": "black", "opacity": 1},
     "encoding": {"x": {"field": "day", "type": "ordinal", "axis": null}, "y": {"field": "lo", "type": "quantitative", "axis": null}}},
    {"data": {"name": "F_sum"}, "mark": {"type": "tick", "orient": "horizontal", "size": 12, "thickness": 1.5, "color": "black", "opacity": 1},
     "encoding": {"x": {"field": "day", "type": "ordinal", "axis": null}, "y": {"field": "hi", "type": "quantitative", "axis": null}}},
    {"data": {"name": "F_br"}, "mark": {"type": "rule", "color": "#8c8c8c", "strokeWidth": 1.2},
     "encoding": {"x": {"field": "from", "type": "ordinal", "axis": {"orient": "top", "domain": false, "ticks": false, "labels": false, "title": "KC", "titleFontSize": 12, "titleX": 103, "titleY": -27, "titleAlign": "center", "titleBaseline": "alphabetic", "titleAngle": 0}},
      "x2": {"field": "to"},
      "y": {"field": "h", "type": "quantitative", "axis": {"orient": "left", "domain": false, "ticks": false, "labels": false, "title": "F", "titleFontSize": 14, "titleFontWeight": "bold", "titleX": -37, "titleY": -27, "titleAlign": "left", "titleBaseline": "alphabetic", "titleAngle": 0}}}},
    {"data": {"name": "F_br"}, "mark": {"type": "rule", "color": "#8c8c8c", "strokeWidth": 1.2},
     "encoding": {"x": {"field": "to", "type": "ordinal", "axis": null}, "y": {"field": "h", "type": "quantitative", "axis": null}, "y2": {"field": "end"}}},
    {"data": {"name": "F_br"}, "mark": {"type": "rule", "color": "#8c8c8c", "strokeWidth": 1.2},
     "encoding": {"x": {"field": "from", "type": "ordinal", "axis": null}, "y": {"field": "h", "type": "quantitative", "axis": null}, "y2": {"field": "cend"}}},
    {"data": {"name": "F_br"}, "mark": {"type": "text", "fontSize": 12, "dy": 3.5, "baseline": "alphabetic", "align": "center", "color": "black"},
     "encoding": {"x": {"field": "from", "type": "ordinal", "axis": null}, "xOffset": {"field": "to", "type": "quantitative", "scale": {"domain": [0, 5], "range": [0, 80.1]}}, "y": {"field": "h", "type": "quantitative", "axis": null}, "text": {"field": "sig"}}}
   ]}
 ]},
 {"bounds": "flush", "spacing": 0, "hconcat": [
  {"width": 39, "height": 1, "data": {"values": []}, "mark": "point"},
  {"width": 193, "height": 129, "resolve": {"scale": {"xOffset": "independent"}, "axis": {"x": "independent", "y": "independent"}},
   "layer": [
    {"data": {"name": "G_pts"}, "transform": [{"filter": "datum.day < 5"}], "mark": {"type": "point", "filled": true, "color": "black", "opacity": 1, "strokeWidth": 0},
     "encoding": {"x": {"field": "day", "type": "ordinal", "scale": {"type": "point", "domain": [0,1,2,3,4,5], "padding": 0.475, "align": 0.484}, "axis": {"labelExpr": "datum.value == 0 ? 'Control' : 'FY1 Day ' + datum.value", "labelAngle": -45, "title": null}},
      "xOffset": {"field": "slot", "type": "quantitative", "scale": {"domain": [-1, 1], "range": [-6, 6]}},
      "y": {"field": "v", "type": "quantitative", "scale": {"domain": [0, 500], "nice": false, "zero": false}, "axis": {"values": [0,100,200,300,400,500], "title": "pg/ml", "titleFontSize": 12, "labelFontSize": 10.5}},
      "shape": {"field": "day", "type": "nominal", "scale": {"domain": [0,1,2,3,4], "range": ["circle","square","triangle-up","triangle-down","diamond"]}, "legend": null},
      "size": {"field": "day", "type": "ordinal", "scale": {"domain": [0,1,2,3,4], "range": [44,42,44,44,30]}, "legend": null}}},
    {"data": {"name": "G_pts"}, "transform": [{"filter": "datum.day == 5"}], "mark": {"type": "point", "shape": "circle", "filled": true, "fill": "white", "stroke": "black", "strokeWidth": 1.5, "size": 34, "opacity": 1},
     "encoding": {"x": {"field": "day", "type": "ordinal", "axis": null}, "xOffset": {"field": "slot", "type": "quantitative", "scale": {"domain": [-1, 1], "range": [-6, 6]}}, "y": {"field": "v", "type": "quantitative", "axis": null}}},
    {"data": {"name": "G_sum"}, "mark": {"type": "rule", "color": "black", "strokeWidth": 1.5},
     "encoding": {"x": {"field": "day", "type": "ordinal", "axis": null}, "y": {"field": "lo", "type": "quantitative", "axis": null}, "y2": {"field": "hi"}}},
    {"data": {"name": "G_sum"}, "mark": {"type": "tick", "orient": "horizontal", "size": 22, "thickness": 1.5, "color": "black", "opacity": 1},
     "encoding": {"x": {"field": "day", "type": "ordinal", "axis": null}, "y": {"field": "mean", "type": "quantitative", "axis": null}}},
    {"data": {"name": "G_sum"}, "mark": {"type": "tick", "orient": "horizontal", "size": 12, "thickness": 1.5, "color": "black", "opacity": 1},
     "encoding": {"x": {"field": "day", "type": "ordinal", "axis": null}, "y": {"field": "lo", "type": "quantitative", "axis": null}}},
    {"data": {"name": "G_sum"}, "mark": {"type": "tick", "orient": "horizontal", "size": 12, "thickness": 1.5, "color": "black", "opacity": 1},
     "encoding": {"x": {"field": "day", "type": "ordinal", "axis": null}, "y": {"field": "hi", "type": "quantitative", "axis": null}}},
    {"data": {"name": "G_br"}, "mark": {"type": "rule", "color": "#8c8c8c", "strokeWidth": 1.2},
     "encoding": {"x": {"field": "from", "type": "ordinal", "axis": {"orient": "top", "domain": false, "ticks": false, "labels": false, "title": "IL-10", "titleFontSize": 12, "titleX": 96, "titleY": -24, "titleAlign": "center", "titleBaseline": "alphabetic", "titleAngle": 0}},
      "x2": {"field": "to"},
      "y": {"field": "h", "type": "quantitative", "axis": {"orient": "left", "domain": false, "ticks": false, "labels": false, "title": "G", "titleFontSize": 14, "titleFontWeight": "bold", "titleX": -27, "titleY": -23, "titleAlign": "left", "titleBaseline": "alphabetic", "titleAngle": 0}}}},
    {"data": {"name": "G_br"}, "mark": {"type": "rule", "color": "#8c8c8c", "strokeWidth": 1.2},
     "encoding": {"x": {"field": "to", "type": "ordinal", "axis": null}, "y": {"field": "h", "type": "quantitative", "axis": null}, "y2": {"field": "end"}}},
    {"data": {"name": "G_br"}, "mark": {"type": "rule", "color": "#8c8c8c", "strokeWidth": 1.2},
     "encoding": {"x": {"field": "from", "type": "ordinal", "axis": null}, "y": {"field": "h", "type": "quantitative", "axis": null}, "y2": {"field": "cend"}}},
    {"data": {"name": "G_br"}, "mark": {"type": "text", "fontSize": 12, "dy": 3.5, "baseline": "alphabetic", "align": "center", "color": "black"},
     "encoding": {"x": {"field": "from", "type": "ordinal", "axis": null}, "xOffset": {"field": "to", "type": "quantitative", "scale": {"domain": [0, 5], "range": [0, 81.1]}}, "y": {"field": "h", "type": "quantitative", "axis": null}, "text": {"field": "sig"}}}
   ]}
 ]}
 ]}
]
}
